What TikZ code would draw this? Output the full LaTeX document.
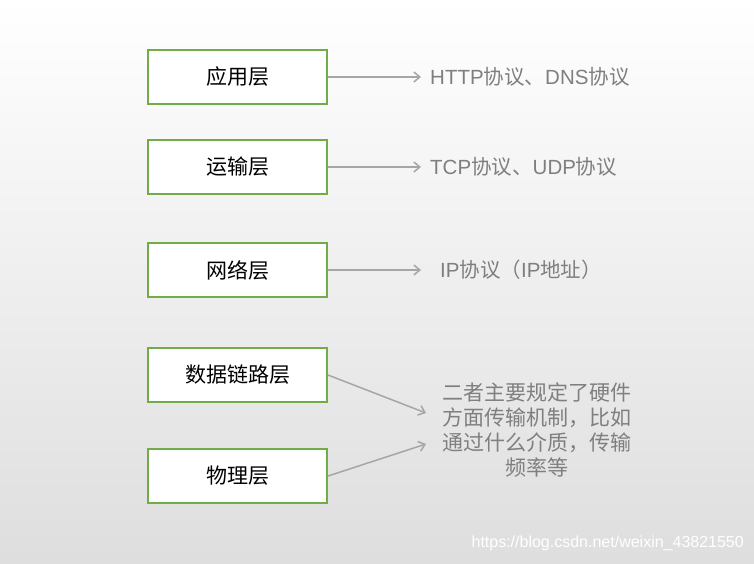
\documentclass[tikz,border=0pt]{standalone}
\usepackage{fontspec}
\setmainfont{Liberation Sans}
\newfontfamily\cjk{Noto Sans CJK SC}
\usetikzlibrary{arrows.meta}
\definecolor{boxgreen}{HTML}{70AD47}
\definecolor{arrgray}{HTML}{A6A6A6}
\definecolor{txtgray}{HTML}{7F7F7F}
\begin{document}
\begin{tikzpicture}[x=1pt,y=-1pt,
  layerbox/.style={draw=boxgreen,line width=2pt,fill=white,minimum width=179pt,minimum height=54pt,inner sep=0pt,font=\cjk\fontsize{21}{24}\selectfont},
  conn/.style={draw=arrgray,line width=1.5pt,-{Straight Barb[length=6pt,width=10pt]}},
  note/.style={text=txtgray,font=\fontsize{20.5}{25}\selectfont,inner sep=0pt}]
\shade[top color=white,bottom color=black!13] (0,0) rectangle (754,563);
\useasboundingbox (0,0) rectangle (754,563);
\node[layerbox] (app) at (237.5,77) {应用层};
\node[layerbox] (trans) at (237.5,167) {运输层};
\node[layerbox] (net) at (237.5,270) {网络层};
\node[layerbox] (link) at (237.5,375) {数据链路层};
\node[layerbox] (phy) at (237.5,476) {物理层};
\coordinate (a1) at (421,77);
\coordinate (a2) at (421,167);
\coordinate (a3) at (421,270);
\coordinate (a4) at (426,413);
\coordinate (a5) at (426,444);
\node[note,anchor=west] (t1) at (430,77) {HTTP{\cjk 协议、}DNS{\cjk 协议}};
\node[note,anchor=west] (t2) at (430,167) {TCP{\cjk 协议、}UDP{\cjk 协议}};
\node[note,anchor=west] (t3) at (440,270) {IP{\cjk 协议（}IP{\cjk 地址）}};
\node[note,align=center,text width=200pt,font=\cjk\fontsize{21}{25}\selectfont] (t4) at (537,430) {二者主要规定了硬件\\方面传输机制，比如\\通过什么介质，传输\\频率等};
\draw[conn] (app.east) -- (a1);
\draw[conn] (trans.east) -- (a2);
\draw[conn] (net.east) -- (a3);
\draw[conn] (link.east) -- (a4);
\draw[conn] (phy.east) -- (a5);
\node[text=white,font=\fontsize{16}{18}\selectfont,inner sep=0pt,anchor=east] (wm) at (744,543) {https://blog.csdn.net/weixin\_43821550};
\end{tikzpicture}
\end{document}
